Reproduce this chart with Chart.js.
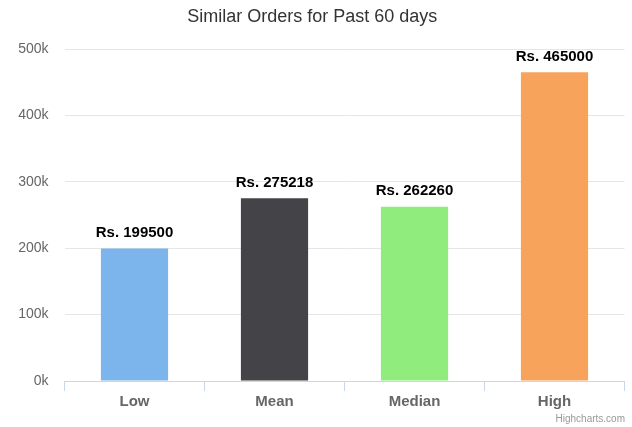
<!DOCTYPE html>
<html>
<head>
<meta charset="utf-8">
<script src="https://cdn.jsdelivr.net/npm/chart.js@4"></script>
<style>
    html, body { margin: 0; padding: 0; background: #fff; }
    #wrap { width: 632px; height: 427px; position: relative; }
</style>
</head>
<body>
<div id="wrap"><canvas id="ordersChart"></canvas></div>
<script>
// Data
const categories = ['Low', 'Mean', 'Median', 'High'];
const orderValues = [199500, 275218, 262260, 465000];
const barColors = ['#7cb5ec', '#434348', '#90ed7d', '#f7a35c'];
const yTicks = [0, 100000, 200000, 300000, 400000, 500000];

const fontFamily = "'Liberation Sans', Arial, Helvetica, sans-serif";

// value labels above each bar + credits text
const labelsPlugin = {
    id: 'barLabels',
    afterDatasetsDraw(chart) {
        const ctx = chart.ctx;
        const meta = chart.getDatasetMeta(0);
        ctx.save();
        ctx.font = 'bold 15px ' + fontFamily;
        ctx.fillStyle = '#000';
        ctx.textAlign = 'center';
        ctx.textBaseline = 'alphabetic';
        meta.data.forEach((bar, i) => {
            ctx.fillText('Rs. ' + orderValues[i], bar.x, bar.y - 11.5);
        });
        ctx.font = '10px ' + fontFamily;
        ctx.fillStyle = '#999';
        ctx.textAlign = 'right';
        ctx.fillText('Highcharts.com', 625, 422);
        ctx.restore();
    }
};

new Chart(document.getElementById('ordersChart'), {
    type: 'bar',
    data: {
        labels: categories,
        datasets: [{
            data: orderValues,
            backgroundColor: barColors,
            borderWidth: 0,
            categoryPercentage: 1,
            barPercentage: 0.48
        }]
    },
    options: {
        responsive: true,
        maintainAspectRatio: false,
        animation: false,
        layout: { padding: { left: 0, right: 7.5, top: 0, bottom: 0 } },
        scales: {
            x: {
                offset: true,
                grid: {
                    offset: true,
                    drawOnChartArea: false,
                    drawTicks: true,
                    tickLength: 10,
                    color: '#ccd6eb'
                },
                border: { color: '#ccd6eb' },
                ticks: {
                    color: '#666',
                    padding: 2,
                    font: { family: fontFamily, size: 15, weight: 'bold' }
                },
                afterFit: scale => { scale.height = 46; }
            },
            y: {
                min: 0,
                max: 500000,
                afterBuildTicks: scale => {
                    scale.ticks = yTicks.map(v => ({ value: v }));
                },
                grid: {
                    color: '#e6e6e6',
                    drawTicks: false
                },
                border: { display: false },
                ticks: {
                    color: '#666',
                    padding: 16,
                    font: { family: fontFamily, size: 14 },
                    callback: value => (value / 1000) + 'k'
                },
                afterFit: scale => { scale.width = 64.5; }
            }
        },
        plugins: {
            legend: { display: false },
            tooltip: { enabled: false },
            title: {
                display: true,
                text: 'Similar Orders for Past 60 days',
                color: '#333',
                font: { family: fontFamily, size: 18, weight: 'normal', lineHeight: 1.2 },
                padding: { top: 6.5, bottom: 20.9 }
            }
        }
    },
    plugins: [labelsPlugin]
});
</script>
</body>
</html>
